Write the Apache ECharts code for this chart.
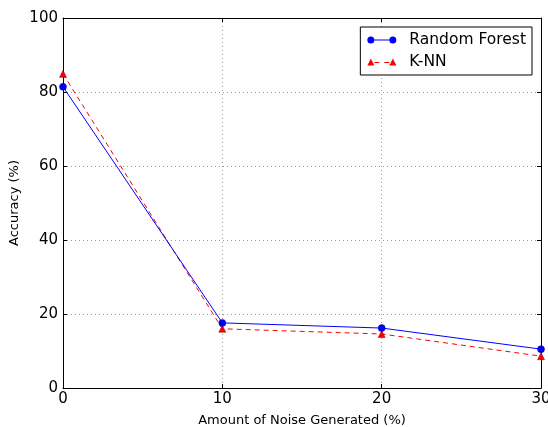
<!DOCTYPE html>
<html><head><meta charset="utf-8">
<script src="https://cdn.jsdelivr.net/npm/echarts@6/dist/echarts.min.js"></script>
<style>html,body{margin:0;padding:0;background:#fff}#c{width:548px;height:427px}</style>
</head><body><div id="c"></div>
<script>
var noise = [0, 10, 20, 30];
var randomForest = [81.4, 17.6, 16.2, 10.5];
var knn = [84.9, 16.0, 14.6, 8.6];
var xTicks = [0, 10, 20, 30];
var yTicks = [0, 20, 40, 60, 80, 100];

var chart = echarts.init(document.getElementById('c'));
var font = 'DejaVu Sans';
function pairs(xs, ys){ return xs.map(function(x,i){return [x, ys[i]];}); }
var rfIcon = 'path://M0 4A3.5 3.5 0 1 0 7 4A3.5 3.5 0 1 0 0 4ZM7 3.6L22 3.6L22 4.4L7 4.4ZM22 4A3.5 3.5 0 1 0 29 4A3.5 3.5 0 1 0 22 4Z';
var knnIcon = 'path://M0 7L3.5 0L7 7ZM7 3.6L12 3.6L12 4.4L7 4.4ZM17 3.6L22 3.6L22 4.4L17 4.4ZM22 7L25.5 0L29 7Z';
chart.setOption({
  animation: false,
  textStyle: {fontFamily: font},
  grid: {left: 63, right: 7, top: 18, bottom: 39, show: false, containLabel: false, outerBoundsMode: 'none'},
  legend: {
    right: 16, top: 27,
    orient: 'vertical',
    backgroundColor: '#fff',
    borderColor: '#000', borderWidth: 1, borderRadius: 0,
    padding: [5, 6, 5, 7],
    itemGap: 6,
    itemWidth: 29, itemHeight: 7,
    itemStyle: {borderWidth: 0},
    textStyle: {fontFamily: font, fontSize: 15.5, lineHeight: 16, color: '#000', padding: [0,0,0,8]},
    data: [{name: 'Random Forest', icon: rfIcon}, {name: 'K-NN', icon: knnIcon}]
  },
  xAxis: [{
    type: 'value', min: 0, max: 30, interval: 10,
    name: 'Amount of Noise Generated (%)', nameLocation: 'middle', nameGap: 26,
    nameTextStyle: {fontFamily: font, fontSize: 13, color: '#000'},
    axisLine: {show: true, onZero: false, lineStyle: {color: '#000', width: 1}},
    axisTick: {show: true, inside: true, length: 4, lineStyle: {color: '#000'}},
    axisLabel: {fontFamily: font, fontSize: 15, color: '#000', margin: 4,
      formatter: function(v){ return xTicks.indexOf(v) >= 0 ? String(v) : ''; }},
    splitLine: {show: true, lineStyle: {color: '#555', type: [1, 3], width: 1, opacity: 0.6}}
  }, {
    type: 'value', min: 0, max: 30, interval: 10, position: 'top',
    axisLine: {show: true, onZero: false, lineStyle: {color: '#000', width: 1}},
    axisTick: {show: true, inside: true, length: 4, lineStyle: {color: '#000'}},
    axisLabel: {show: false}, splitLine: {show: false}
  }],
  yAxis: [{
    type: 'value', min: 0, max: 100, interval: 20,
    name: 'Accuracy (%)', nameLocation: 'middle', nameGap: 42, nameRotate: 90, nameMoveOverlap: false,
    nameTextStyle: {fontFamily: font, fontSize: 13, color: '#000'},
    axisLine: {show: true, onZero: false, lineStyle: {color: '#000', width: 1}},
    axisTick: {show: true, inside: true, length: 4, lineStyle: {color: '#000'}},
    axisLabel: {fontFamily: font, fontSize: 15, color: '#000', margin: 5,
      formatter: function(v){ return yTicks.indexOf(v) >= 0 ? String(v) : ''; }},
    splitLine: {show: true, lineStyle: {color: '#555', type: [1, 3], width: 1, opacity: 0.6}}
  }, {
    type: 'value', min: 0, max: 100, interval: 20, position: 'right',
    axisLine: {show: true, onZero: false, lineStyle: {color: '#000', width: 1}},
    axisTick: {show: true, inside: true, length: 4, lineStyle: {color: '#000'}},
    axisLabel: {show: false}, splitLine: {show: false}
  }],
  series: [{
    name: 'Random Forest', type: 'line', data: pairs(noise, randomForest),
    symbol: 'circle', symbolSize: 7,
    lineStyle: {color: '#0000ff', width: 1},
    itemStyle: {color: '#0000ff', borderColor: '#00008b', borderWidth: 0.5},
    z: 3
  }, {
    name: 'K-NN', type: 'line', data: pairs(noise, knn),
    symbol: 'triangle', symbolSize: 7,
    lineStyle: {color: '#ff0000', width: 1, type: [5, 4]},
    itemStyle: {color: '#ff0000', borderColor: '#8b0000', borderWidth: 0.5},
    z: 2
  }]
});
</script></body></html>
